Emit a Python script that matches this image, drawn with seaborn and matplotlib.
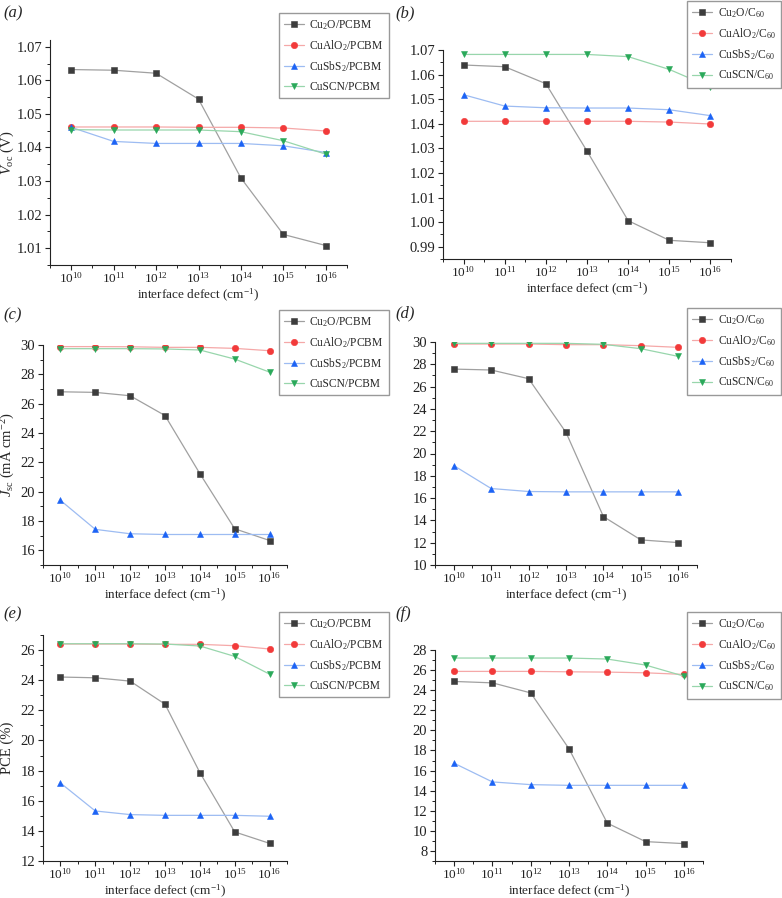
import numpy as np
import pandas as pd
import matplotlib
matplotlib.use("Agg")
import matplotlib.pyplot as plt
import seaborn as sns
from matplotlib.ticker import MultipleLocator, FixedLocator, FixedFormatter, FormatStrFormatter

# defect density exponents (cm^-1)
exponents = [10, 11, 12, 13, 14, 15, 16]
tick_labels = ["$10^{%d}$" % e for e in exponents]

names_pcbm = ["Cu$_2$O/PCBM", "CuAlO$_2$/PCBM", "CuSbS$_2$/PCBM", "CuSCN/PCBM"]
names_c60 = ["Cu$_2$O/C$_{60}$", "CuAlO$_2$/C$_{60}$", "CuSbS$_2$/C$_{60}$", "CuSCN/C$_{60}$"]

# (a) Voc, PCBM
voc_pcbm_cu2o = [1.0632, 1.0630, 1.0621, 1.0544, 1.0309, 1.0141, 1.0108]
voc_pcbm_cualo2 = [1.0461, 1.0461, 1.0461, 1.0460, 1.0460, 1.0458, 1.0449]
voc_pcbm_cusbs2 = [1.0460, 1.0418, 1.0412, 1.0412, 1.0412, 1.0405, 1.0385]
voc_pcbm_cuscn = [1.0453, 1.0452, 1.0452, 1.0452, 1.0447, 1.0420, 1.0380]

# (b) Voc, C60
voc_c60_cu2o = [1.0639, 1.0632, 1.0563, 1.0289, 1.0006, 0.9926, 0.9916]
voc_c60_cualo2 = [1.0410, 1.0410, 1.0410, 1.0410, 1.0410, 1.0407, 1.0399]
voc_c60_cusbs2 = [1.0518, 1.0472, 1.0465, 1.0464, 1.0464, 1.0457, 1.0433]
voc_c60_cuscn = [1.0682, 1.0682, 1.0682, 1.0682, 1.0673, 1.0621, 1.0549]

# (c) Jsc, PCBM
jsc_pcbm_cu2o = [26.81, 26.77, 26.54, 25.19, 21.23, 17.47, 16.67]
jsc_pcbm_cualo2 = [29.89, 29.89, 29.88, 29.84, 29.84, 29.77, 29.61]
jsc_pcbm_cusbs2 = [19.41, 17.43, 17.13, 17.08, 17.08, 17.08, 17.08]
jsc_pcbm_cuscn = [29.75, 29.75, 29.75, 29.73, 29.66, 29.04, 28.15]

# (d) Jsc, C60
jsc_c60_cu2o = [27.57, 27.49, 26.71, 21.89, 14.34, 12.25, 12.01]
jsc_c60_cualo2 = [29.82, 29.82, 29.82, 29.76, 29.76, 29.67, 29.52]
jsc_c60_cusbs2 = [18.92, 16.86, 16.59, 16.56, 16.56, 16.56, 16.56]
jsc_c60_cuscn = [29.88, 29.88, 29.88, 29.88, 29.79, 29.40, 28.71]

# (e) PCE, PCBM
pce_pcbm_cu2o = [24.21, 24.16, 23.94, 22.41, 17.87, 13.93, 13.17]
pce_pcbm_cualo2 = [26.40, 26.40, 26.40, 26.38, 26.38, 26.29, 26.07]
pce_pcbm_cusbs2 = [17.18, 15.32, 15.08, 15.03, 15.03, 15.03, 14.97]
pce_pcbm_cuscn = [26.42, 26.42, 26.42, 26.40, 26.27, 25.58, 24.40]

# (f) PCE, C60
pce_c60_cu2o = [24.87, 24.73, 23.73, 18.17, 10.77, 8.93, 8.73]
pce_c60_cualo2 = [25.87, 25.87, 25.87, 25.83, 25.80, 25.73, 25.57]
pce_c60_cusbs2 = [16.73, 14.87, 14.60, 14.53, 14.53, 14.53, 14.53]
pce_c60_cuscn = [27.20, 27.20, 27.20, 27.20, 27.10, 26.50, 25.40]

sns.set_style("ticks")
plt.rcParams["font.family"] = ["Liberation Serif", "DejaVu Serif"]
plt.rcParams["mathtext.fontset"] = "custom"
plt.rcParams["mathtext.rm"] = "Liberation Serif"
plt.rcParams["mathtext.it"] = "Liberation Serif:italic"

marker_colors = ["#3d3d3d", "#f23a3a", "#1c63f5", "#2aa95a"]
line_colors = ["#a0a0a0", "#f5a8a8", "#9dbcf2", "#98d6ac"]
markers = ["s", "o", "^", "v"]

W, H = 782, 898
fig = plt.figure(figsize=(W / 100, H / 100), dpi=100)


def px_axes(left, top, right, bottom):
    return fig.add_axes([left / W, 1 - bottom / H, (right - left) / W, (bottom - top) / H])


panels = [
    # label, label pos, axes box(px), series, names, ylim, major, minor,
    # ylabel, ylabel centre x(px), legend anchor (right, top)
    ("(a)", (3, 13), (50, 40, 347, 265),
     [voc_pcbm_cu2o, voc_pcbm_cualo2, voc_pcbm_cusbs2, voc_pcbm_cuscn], names_pcbm,
     (1.005, 1.072), 0.01, 0.005, "$V_{\\mathrm{oc}}$ (V)", 10, (389, 13)),
    ("(b)", (395, 13), (443, 50, 731, 259),
     [voc_c60_cu2o, voc_c60_cualo2, voc_c60_cusbs2, voc_c60_cuscn], names_c60,
     (0.985, 1.070), 0.01, 0.005, None, None, (781, 1)),
    ("(c)", (3, 315), (43, 345, 287, 565),
     [jsc_pcbm_cu2o, jsc_pcbm_cualo2, jsc_pcbm_cusbs2, jsc_pcbm_cuscn], names_pcbm,
     (15, 30), 2, 1, "$J_{\\mathrm{sc}}$ (mA cm$^{-2}$)", 11, (389, 310)),
    ("(d)", (395, 313), (435, 342, 697, 565),
     [jsc_c60_cu2o, jsc_c60_cualo2, jsc_c60_cusbs2, jsc_c60_cuscn], names_c60,
     (10, 30), 2, 1, None, None, (781, 308)),
    ("(e)", (3, 614), (43, 635, 287, 861),
     [pce_pcbm_cu2o, pce_pcbm_cualo2, pce_pcbm_cusbs2, pce_pcbm_cuscn], names_pcbm,
     (12, 27), 2, 1, "PCE (%)", 8, (389, 612)),
    ("(f)", (395, 614), (435, 650, 703, 861),
     [pce_c60_cu2o, pce_c60_cualo2, pce_c60_cusbs2, pce_c60_cuscn], names_c60,
     (7, 28), 2, 1, None, None, (781, 612)),
]

for label, lpos, box, series, names, ylim, major, minor, ylabel, ylx, leg in panels:
    ax = px_axes(*box)
    for i, vals in enumerate(series):
        df = pd.DataFrame({"x": exponents, "y": vals})
        sns.lineplot(data=df, x="x", y="y", ax=ax, color=line_colors[i], lw=0.9,
                     marker=markers[i], markersize=4.6, markerfacecolor=marker_colors[i],
                     markeredgecolor=marker_colors[i], markeredgewidth=0.4, label=names[i])
    ax.set_xlim(9.5, 16.5)
    ax.set_ylim(*ylim)
    ax.xaxis.set_major_locator(FixedLocator(exponents))
    ax.xaxis.set_major_formatter(FixedFormatter(tick_labels))
    ax.xaxis.set_minor_locator(MultipleLocator(0.5))
    ax.yaxis.set_major_locator(MultipleLocator(major))
    ax.yaxis.set_minor_locator(MultipleLocator(minor))
    if major < 1:
        ax.yaxis.set_major_formatter(FormatStrFormatter("%.2f"))
    ax.tick_params(which="major", direction="out", length=3.5, width=0.8, colors="#222222",
                   pad=2)
    ax.tick_params(axis="y", which="major", labelsize=10.5)
    ax.tick_params(axis="x", which="major", labelsize=9.5, pad=1)
    ax.tick_params(which="minor", direction="out", length=2, width=0.7, colors="#222222")
    for s in ["top", "right"]:
        ax.spines[s].set_visible(False)
    for s in ["left", "bottom"]:
        ax.spines[s].set_linewidth(0.8)
        ax.spines[s].set_color("#222222")
    ax.set_xlabel("interface defect (cm$^{-1}$)", fontsize=9.5, labelpad=0.5)
    if ylabel:
        ax.set_ylabel(ylabel, fontsize=10.5)
        # label anchor is its baseline side, so shift by about half the text height
        ax.yaxis.set_label_coords((ylx + 6 - box[0]) / (box[2] - box[0]), 0.5)
    else:
        ax.set_ylabel("")
    ax.legend(loc="upper right", bbox_to_anchor=(leg[0] / W, 1 - leg[1] / H),
              bbox_transform=fig.transFigure, fontsize=8.3, frameon=True, fancybox=False,
              edgecolor="#999999", framealpha=1, handlelength=1.7, borderpad=0.45,
              labelspacing=0.55, handletextpad=0.5, borderaxespad=0)
    fig.text(lpos[0] / W, 1 - lpos[1] / H, label, fontsize=12, fontstyle="italic",
             va="center", ha="left")

fig.savefig("out.png", dpi=100)
